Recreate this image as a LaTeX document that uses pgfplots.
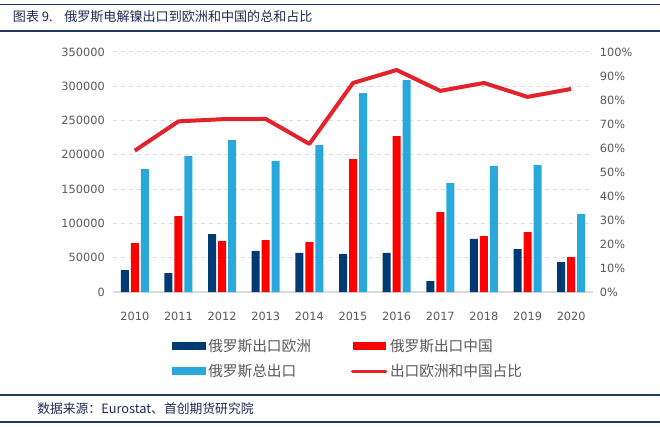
\documentclass[border=0pt]{standalone}
\usepackage{pgfplots}
\pgfplotsset{compat=1.18}
\usepackage{fontspec}
\setmainfont{DejaVu Sans}
\newfontfamily\cjk{Noto Sans CJK SC}

\definecolor{navybar}{HTML}{003A73}
\definecolor{redbar}{HTML}{FF0000}
\definecolor{bluebar}{HTML}{29A9DB}
\definecolor{linec}{HTML}{E3232B}
\definecolor{gridc}{HTML}{D9D9D9}
\definecolor{tickc}{HTML}{595959}
\definecolor{rulec}{HTML}{1F3864}
\definecolor{titlec}{HTML}{1F2A55}

\pgfplotsset{
  base/.style={
    at={(84.75pt,-219pt)}, anchor=south west,
    scale only axis, width=360pt, height=180pt,
    xmin=-0.5, xmax=10.5,
    tick style={draw=none},
    ticklabel style={font=\fontsize{8.5}{10}\selectfont, text=tickc},
    /pgf/number format/assume math mode=true,
  },
}

\begin{document}
\begin{tikzpicture}
\useasboundingbox (0,0) rectangle (495pt,-320.25pt);
% header / footer
\draw[rulec, line width=1.1pt] (0,-3.3pt) -- (495pt,-3.3pt);
\draw[rulec, line width=1.1pt] (0,-23.3pt) -- (495pt,-23.3pt);
\node[anchor=west, inner sep=0pt, text=titlec, font=\cjk\fontsize{9.8}{11}\selectfont] at (9.5pt,-12.5pt) {图表 9.};
\node[anchor=west, inner sep=0pt, text=titlec, font=\cjk\fontsize{9.8}{11}\selectfont] at (48pt,-12.5pt) {俄罗斯电解镍出口到欧洲和中国的总和占比};
\draw[rulec, line width=1.1pt] (0,-296.25pt) -- (495pt,-296.25pt);
\draw[rulec, line width=1.1pt] (0,-316.5pt) -- (495pt,-316.5pt);
\node[anchor=west, inner sep=0pt, text=titlec, font=\cjk\fontsize{9.6}{11}\selectfont] at (27.75pt,-306.75pt) {数据来源：Eurostat、首创期货研究院};

\begin{axis}[base,
  ymin=0, ymax=350000,
  ytick={0,50000,...,350000},
  scaled y ticks=false,
  yticklabel style={/pgf/number format/fixed, /pgf/number format/1000 sep={}, inner sep=0pt, anchor=east, xshift=-6pt},
  xtick={0,...,10},
  xticklabels={2010,2011,2012,2013,2014,2015,2016,2017,2018,2019,2020},
  xticklabel style={inner sep=0pt, anchor=north, yshift=-10.5pt},
  ymajorgrids, grid style={dashed, gridc, line width=0.75pt},
  axis x line*=bottom, axis y line*=left,
  x axis line style={gridc, line width=0.9pt, -},
  y axis line style={draw=none},
  ybar=1.5pt, bar width=6pt,
  legend columns=2,
  legend cell align=left,
  legend style={draw=none, fill=none, inner sep=0pt,
    at={(0.123,-0.183)}, anchor=north west,
    font=\cjk\fontsize{11}{13}\selectfont, text=tickc,
    row sep=4pt,
    /tikz/every even column/.append style={column sep=28pt}},
  legend image code/.code={\fill[#1] (0pt,-3pt) rectangle (25pt,3pt);},
]
\addplot[fill=navybar, draw=none] coordinates {(0,32000)(1,27700)(2,84500)(3,59800)(4,56900)(5,55400)(6,56900)(7,16000)(8,77300)(9,62700)(10,43700)};
\addlegendentry{俄罗斯出口欧洲}
\addplot[fill=redbar, draw=none] coordinates {(0,71400)(1,110800)(2,74300)(3,75800)(4,72900)(5,193900)(6,227400)(7,116600)(8,81600)(9,87500)(10,51000)};
\addlegendentry{俄罗斯出口中国}
\addplot[fill=bluebar, draw=none] coordinates {(0,179300)(1,198000)(2,221600)(3,191000)(4,214300)(5,290000)(6,309000)(7,158900)(8,183700)(9,185100)(10,113700)};
\addlegendentry{俄罗斯总出口}
\addlegendimage{legend image code/.code={\draw[linec, line width=2.3pt, line cap=round] (0pt,0pt) -- (25pt,0pt);}}
\addlegendentry{出口欧洲和中国占比}
\end{axis}

\begin{axis}[base,
  ymin=0, ymax=100,
  ytick={0,10,...,100},
  yticklabel={\pgfmathprintnumber{\tick}\%},
  yticklabel style={inner sep=0pt, anchor=west, xshift=5pt},
  axis x line=none, axis y line*=right,
  y axis line style={draw=none},
  clip=false,
]
\addplot[linec, line width=3pt, line join=round, mark=none] coordinates {(0,58.9)(1,71.1)(2,72.0)(3,72.1)(4,61.7)(5,87.1)(6,92.5)(7,83.8)(8,87.1)(9,81.3)(10,84.6)};
\end{axis}
\end{tikzpicture}
\end{document}
